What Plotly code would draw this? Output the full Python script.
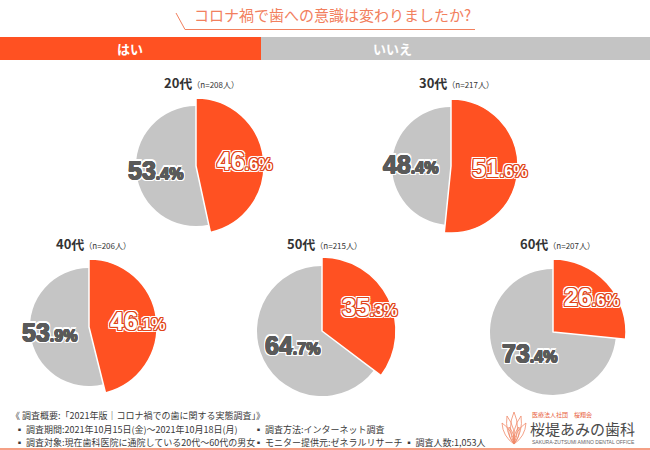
import math
import plotly.graph_objects as go

# ---------------- data ----------------
ages = ["20代", "30代", "40代", "50代", "60代"]
n_counts = [208, 217, 206, 215, 207]
yes_pct = [46.6, 51.6, 46.1, 35.3, 26.6]
no_pct = [53.4, 48.4, 53.9, 64.7, 73.4]
answer_labels = ["はい", "いいえ"]

title_text = "コロナ禍で歯への意識は変わりましたか?"
footer_lines_left = [
    "《 調査概要:「2021年版｜コロナ禍での歯に関する実態調査」》",
    "  ▪ 調査期間:2021年10月15日(金)〜2021年10月18日(月)",
    "  ▪ 調査対象:現在歯科医院に通院している20代〜60代の男女",
]
footer_lines_right = [
    "▪ 調査方法:インターネット調査",
    "▪ モニター提供元:ゼネラルリサーチ ▪ 調査人数:1,053人",
]

# ---------------- layout geometry (pixels) ----------------
W, H = 650, 450
centers = [(196, 166), (451, 166), (89, 327), (322, 331), (553, 332)]
r_yes = [68, 67, 68, 74, 73]
r_no = [60, 59, 59, 65, 63]
title_pos = [(162, 83), (417, 83), (54, 243), (285, 243), (518, 243)]

ORANGE = "#FF5122"
GRAY = "#C5C5C5"
SALMON = "#F2805E"
CLEAR = "rgba(0,0,0,0)"
JP = "Noto Sans CJK JP"
NUMFONT = "Liberation Sans, Arial, sans-serif"


def px(x):
    return x / W


def py(y):
    return 1 - y / H


def dom(cx, cy, r):
    return dict(x=[px(cx - r), px(cx + r)], y=[py(cy + r), py(cy - r)])


def ring(color, d):
    return ", ".join(f"{a}px {b}px 0 {color}" for a, b in
                     [(d, 0), (-d, 0), (0, d), (0, -d), (d, d), (-d, -d), (d, -d), (-d, d)])


fig = go.Figure()
annotations = []

for i in range(len(ages)):
    cx, cy = centers[i]
    vals = [yes_pct[i], no_pct[i]]
    # gray (いいえ) slice, smaller radius
    fig.add_trace(go.Pie(
        values=vals, labels=answer_labels, sort=False, direction="clockwise",
        rotation=0, domain=dom(cx, cy, r_no[i]),
        marker=dict(colors=[CLEAR, GRAY], line=dict(width=0)),
        textinfo="none", hoverinfo="skip", showlegend=False,
    ))
    # orange (はい) slice, larger radius
    fig.add_trace(go.Pie(
        values=vals, labels=answer_labels, sort=False, direction="clockwise",
        rotation=0, domain=dom(cx, cy, r_yes[i]),
        marker=dict(colors=[ORANGE, CLEAR],
                    line=dict(color=["white", CLEAR], width=[1.5, 0])),
        textinfo="none", hoverinfo="skip", showlegend=False,
    ))

    # percentage labels placed along slice bisectors
    total = sum(vals)
    a_yes = math.radians(vals[0] / total * 180)
    a_no = math.radians((vals[0] + vals[1] / 2) / total * 360)
    f_yes = 0.72 * r_yes[i]
    f_no = (0.5 if vals[1] > 60 else 0.68) * r_no[i]
    for val, ang, dist, color, shadow in [
        (vals[0], a_yes, f_yes, "white",
         ring("#e0441a", 1) + ", " + ring("#ffffff", 2)),
        (vals[1], a_no, f_no, "#5a5a5a",
         ring("#5a5a5a", 0.5) + ", " + ring("#ffffff", 1.6)),
    ]:
        ip, dp = f"{val:.1f}".split(".")
        lx = cx + dist * math.sin(ang)
        ly = cy - dist * math.cos(ang)
        annotations.append(dict(
            x=px(lx), y=py(ly), xref="paper", yref="paper", showarrow=False,
            xanchor="center", yanchor="middle",
            text=f"<b>{ip}<span style='font-size:16px'>.{dp}%</span></b>",
            font=dict(family=NUMFONT, size=25, color=color, shadow=shadow),
        ))

    # age titles
    tx, ty = title_pos[i]
    annotations.append(dict(
        x=px(tx), y=py(ty), xref="paper", yref="paper", showarrow=False,
        xanchor="left", yanchor="middle",
        text=f"<b>{ages[i]}</b><span style='font-size:8px'>（n={n_counts[i]}人）</span>",
        font=dict(family=JP, size=13, color="#333333"),
    ))

# title
annotations.append(dict(
    x=px(332), y=py(15), xref="paper", yref="paper", showarrow=False,
    xanchor="center", yanchor="middle", text=title_text,
    font=dict(family=JP, size=15, color=SALMON),
))
# header bar labels
annotations.append(dict(
    x=px(130), y=py(48.5), xref="paper", yref="paper", showarrow=False,
    xanchor="center", yanchor="middle", text=f"<b>{answer_labels[0]}</b>",
    font=dict(family=JP, size=13, color="white"),
))
annotations.append(dict(
    x=px(392), y=py(48.5), xref="paper", yref="paper", showarrow=False,
    xanchor="center", yanchor="middle", text=f"<b>{answer_labels[1]}</b>",
    font=dict(family=JP, size=13, color="white"),
))

# footer
for line, y in zip(footer_lines_left, [415, 429, 442]):
    annotations.append(dict(
        x=px(9), y=py(y), xref="paper", yref="paper", showarrow=False,
        xanchor="left", yanchor="middle", text=line,
        font=dict(family=JP, size=9, color="#3a3a3a"),
    ))
for line, y in zip(footer_lines_right, [429, 442]):
    annotations.append(dict(
        x=px(252), y=py(y), xref="paper", yref="paper", showarrow=False,
        xanchor="left", yanchor="middle", text=line,
        font=dict(family=JP, size=9, color="#3a3a3a"),
    ))

# logo text
annotations.append(dict(
    x=px(530), y=py(414), xref="paper", yref="paper", showarrow=False,
    xanchor="left", yanchor="middle", text="医療法人社団　桜翔会",
    font=dict(family=JP, size=6, color="#E8603C"),
))
annotations.append(dict(
    x=px(528), y=py(428), xref="paper", yref="paper", showarrow=False,
    xanchor="left", yanchor="middle", text="桜堤あみの歯科",
    font=dict(family=JP, size=15, color="#4a4a4a"),
))
annotations.append(dict(
    x=px(530), y=py(442), xref="paper", yref="paper", showarrow=False,
    xanchor="left", yanchor="middle", text="SAKURA-ZUTSUMI AMINO DENTAL OFFICE",
    font=dict(family="Liberation Sans", size=5, color="#666666"),
))


def P(x, y):
    return f"{px(x):.5f},{py(y):.5f}"


shapes = [
    # header bar
    dict(type="rect", xref="paper", yref="paper", x0=0, x1=px(261), y0=py(60), y1=py(37),
         fillcolor=ORANGE, line=dict(width=0), layer="below"),
    dict(type="rect", xref="paper", yref="paper", x0=px(261), x1=1, y0=py(60), y1=py(37),
         fillcolor="#C4C4C4", line=dict(width=0), layer="below"),
    # title underline + slash
    dict(type="line", xref="paper", yref="paper", x0=px(185), x1=px(475), y0=py(29.5), y1=py(29.5),
         line=dict(color=SALMON, width=1)),
    dict(type="line", xref="paper", yref="paper", x0=px(176), x1=px(185), y0=py(13), y1=py(29.5),
         line=dict(color=SALMON, width=1)),
    # bottom rule
    dict(type="line", xref="paper", yref="paper", x0=0, x1=1, y0=py(449), y1=py(449),
         line=dict(color=SALMON, width=1.5)),
]

# simple lotus-like logo mark
base = (514, 444)
petals = [((514, 412), 7), ((507, 416), 6), ((521, 416), 6), ((502, 423), 6), ((526, 423), 6),
          ((509, 427), 4), ((519, 427), 4)]
for (tx, ty), w in petals:
    bx, by = base
    mx, my = (bx + tx) / 2, (by + ty) / 2
    dx, dy = tx - bx, ty - by
    L = math.hypot(dx, dy)
    nx, ny = -dy / L * w, dx / L * w
    path = (f"M {P(bx, by)} Q {P(mx + nx, my + ny)} {P(tx, ty)} "
            f"Q {P(mx - nx, my - ny)} {P(bx, by)}")
    shapes.append(dict(type="path", xref="paper", yref="paper", path=path,
                       line=dict(color="#F08A6A", width=0.8)))

fig.update_layout(
    width=W, height=H, margin=dict(l=0, r=0, t=0, b=0),
    paper_bgcolor="white", plot_bgcolor="white",
    annotations=annotations, shapes=shapes, showlegend=False,
)

fig.write_html(
    "out.html",
    config={"displayModeBar": False},
    post_script="document.body.style.margin='0';document.body.style.overflow='hidden';",
)
